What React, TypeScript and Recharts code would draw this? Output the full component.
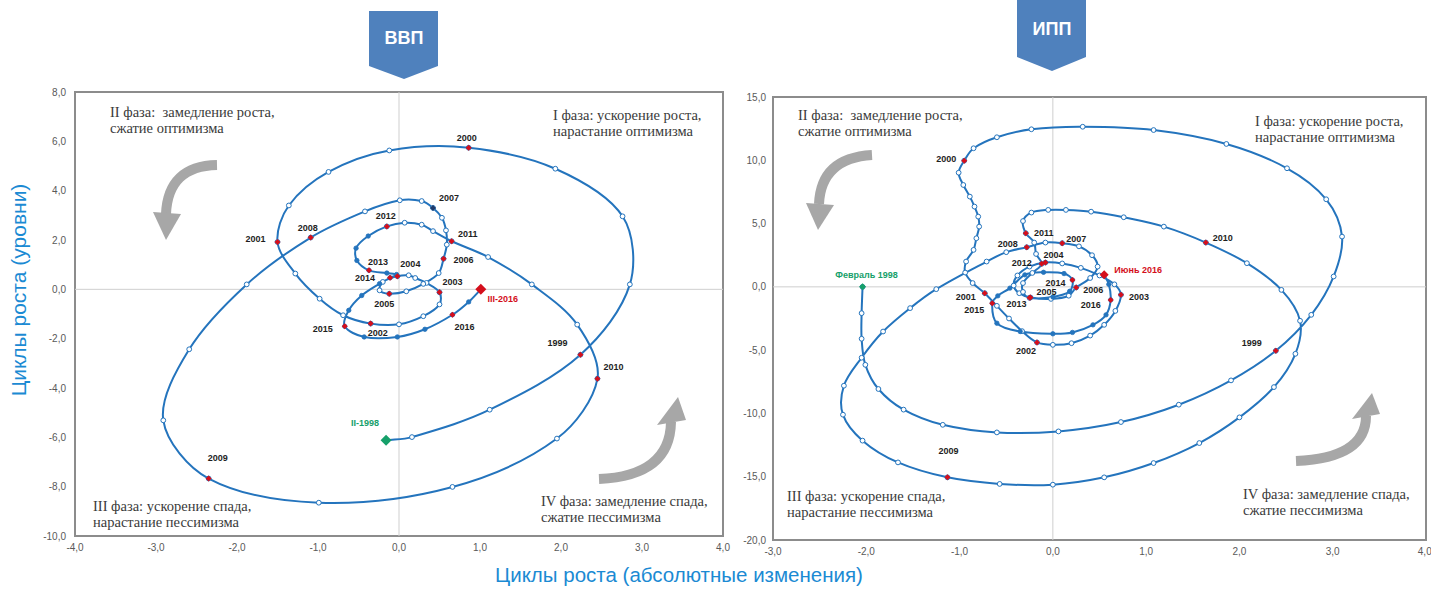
import React from 'react'
import { ComposedChart, Line, Scatter, XAxis, YAxis, ReferenceLine, ReferenceArea } from 'recharts'

type Pt = [number, number]
type Year = [string, number, number]

// ВВП, quarterly path II-1998 … 2012 (hollow dots)
const gdpEarly: Pt[] = [
  [-0.16, -6.12], [0.16, -5.99], [1.12, -4.88], [2.24, -2.65],
  [2.85, 0.2], [2.76, 2.96], [1.93, 4.89], [0.86, 5.74],
  [-0.12, 5.63], [-0.87, 4.76], [-1.36, 3.4], [-1.5, 1.92],
  [-1.28, 0.64], [-0.98, -0.38], [-0.69, -1.05], [-0.35, -1.39],
  [0, -1.42], [0.3, -1.09], [0.5, -0.61], [0.5, -0.12],
  [0.34, 0.26], [0.2, 0.46], [0.12, 0.57], [-0.02, 0.53],
  [-0.2, 0.3], [-0.24, -0.04], [-0.12, -0.18],
  [0.09, -0.08], [0.3, 0.22], [0.49, 0.66], [0.55, 1.24],
  [0.59, 1.81], [0.58, 2.39], [0.53, 2.9], [0.42, 3.3],
  [0.28, 3.58], [0.01, 3.61], [-0.42, 3.16], [-1.09, 2.1],
  [-1.88, 0.2], [-2.59, -2.43], [-2.91, -5.31], [-2.35, -7.67],
  [-0.99, -8.65], [0.66, -8.01], [1.95, -6.05], [2.45, -3.62],
  [2.2, -1.43], [1.64, 0.2], [1.1, 1.31], [0.65, 1.95],
  [0.42, 2.36], [0.28, 2.62], [0.07, 2.7], [-0.15, 2.55],
]

// ВВП, 2012 … III-2016 (filled dots)
const gdpLate: Pt[] = [
  [-0.15, 2.55], [-0.38, 2.16], [-0.53, 1.67], [-0.52, 1.17], [-0.37, 0.77],
  [-0.15, 0.66], [-0.03, 0.6], [-0.11, 0.47],
  [-0.24, 0.23], [-0.46, -0.25], [-0.62, -0.85], [-0.67, -1.5],
  [-0.43, -1.93], [-0.02, -1.93], [0.32, -1.62], [0.66, -1.03],
  [0.86, -0.51], [1.01, 0],
]

const gdpYears: Year[] = [
  ['II-1998', -0.16, -6.12], ['1999', 2.24, -2.65], ['2000', 0.86, 5.74],
  ['2001', -1.5, 1.92], ['2002', -0.35, -1.39], ['2003', 0.5, -0.12],
  ['2004', -0.02, 0.53], ['2005', -0.12, -0.18], ['2006', 0.55, 1.24],
  ['2007', 0.42, 3.3], ['2008', -1.09, 2.1], ['2009', -2.35, -7.67],
  ['2010', 2.45, -3.62], ['2011', 0.65, 1.95], ['2012', -0.15, 2.55],
  ['2013', -0.37, 0.77], ['2014', -0.11, 0.47], ['2015', -0.67, -1.5],
  ['2016', 0.66, -1.03], ['III-2016', 1.01, 0],
]

// ИПП, monthly path Февраль 1998 … 2013 (hollow dots)
const ippEarly: Pt[] = [
  [-2.04, 0], [-2.05, -2.08], [-2.05, -4.1], [-2.01, -6.16], [-1.87, -8.07],
  [-1.6, -9.7], [-1.18, -10.9], [-0.6, -11.5], [0.06, -11.42], [0.73, -10.68],
  [1.35, -9.31], [1.91, -7.39], [2.39, -5.05], [2.77, -2.21], [3.01, 0.82],
  [3.1, 3.97], [2.93, 6.92], [2.51, 9.37], [1.86, 11.29], [1.08, 12.39],
  [0.32, 12.65], [-0.23, 12.45], [-0.6, 11.82], [-0.85, 10.95], [-0.95, 9.97],
  [-1.01, 9.02], [-0.96, 8.05], [-0.89, 7.13], [-0.84, 6.34], [-0.8, 5.55],
  [-0.79, 4.76], [-0.82, 3.84], [-0.85, 2.92], [-0.93, 2.0], [-0.94, 1.13],
  [-0.86, 0.3], [-0.73, -0.5], [-0.6, -1.5], [-0.47, -2.5], [-0.33, -3.5],
  [-0.17, -4.39], [0, -4.58], [0.2, -4.45], [0.4, -3.85], [0.55, -3.0],
  [0.67, -1.9], [0.73, -0.63], [0.66, 0.2], [0.5, 0.9], [0.3, 1.5],
  [0.1, 1.85], [-0.08, 1.92], [-0.25, 1.6], [-0.38, 0.9], [-0.42, 0.1],
  [-0.36, -0.5], [-0.24, -0.84], [-0.02, -0.95], [0.17, -0.7], [0.25, -0.05],
  [0.4, 0.7], [0.48, 1.6], [0.42, 2.5], [0.28, 3.2], [0.1, 3.45],
  [-0.08, 3.5], [-0.28, 3.13], [-0.5, 2.74], [-0.71, 2.0], [-1.25, -0.18],
  [-1.53, -1.68], [-1.82, -3.53], [-2.05, -5.6], [-2.24, -7.81], [-2.25, -10.1],
  [-2.04, -12.15], [-1.66, -13.87], [-1.13, -15.05], [-0.57, -15.57], [0, -15.63],
  [0.55, -15.05], [1.08, -13.92], [1.57, -12.34], [2.0, -10.31], [2.37, -7.92],
  [2.6, -5.29], [2.65, -2.68], [2.45, -0.24], [2.08, 1.87], [1.64, 3.5],
  [1.19, 4.76], [0.76, 5.5], [0.41, 5.94], [0.14, 6.08], [-0.05, 6.08],
  [-0.23, 5.87], [-0.32, 5.2], [-0.29, 4.24], [-0.2, 3.5], [-0.18, 2.6],
  [-0.12, 1.82], [-0.22, 1.1], [-0.32, 0.3], [-0.32, -0.4], [-0.25, -0.87],
]

// ИПП, 2013 … Июнь 2016 (filled dots)
const ippLate: Pt[] = [
  [-0.25, -0.87], [0, -0.8], [0.18, -0.35], [0.21, 0.55], [0.12, 1.05],
  [-0.1, 1.15], [-0.3, 0.95], [-0.46, -0.1], [-0.59, -0.71], [-0.65, -1.29],
  [-0.6, -2.87], [-0.35, -3.53], [0, -3.71], [0.21, -3.6], [0.43, -3.0],
  [0.57, -2.21], [0.62, -1.03], [0.6, 0.2], [0.55, 0.95],
]

const ippYears: Year[] = [
  ['Февраль 1998', -2.04, 0], ['1999', 2.39, -5.05], ['2000', -0.95, 9.97],
  ['2001', -0.73, -0.5], ['2002', -0.17, -4.39], ['2003', 0.73, -0.63],
  ['2004', -0.08, 1.92], ['2005', -0.24, -0.84], ['2006', 0.25, -0.05],
  ['2007', 0.1, 3.45], ['2008', -0.28, 3.13], ['2009', -1.13, -15.05],
  ['2010', 1.64, 3.5], ['2011', -0.29, 4.24], ['2012', -0.12, 1.82],
  ['2013', -0.25, -0.87], ['2014', 0.21, 0.55], ['2015', -0.65, -1.29],
  ['2016', 0.62, -1.03], ['Июнь 2016', 0.55, 0.95],
]

const gdpTicksX = [-4, -3, -2, -1, 0, 1, 2, 3, 4]
const gdpTicksY = [-10, -8, -6, -4, -2, 0, 2, 4, 6, 8]
const ippTicksX = [-3, -2, -1, 0, 1, 2, 3, 4]
const ippTicksY = [-20, -15, -10, -5, 0, 5, 10, 15]

// label offsets (px) relative to each year marker
const gdpLabelOffset: Record<string, [number, number]> = {
  'II-1998': [-21, -17], '1999': [-23, -12], '2000': [-2, -10], '2001': [-22, -3],
  '2002': [7, 9], '2003': [13, -10], '2004': [13, -12], '2005': [-5, 10],
  '2006': [20, 1], '2007': [16, -10], '2008': [-3, -10], '2009': [9, -21],
  '2010': [16, -12], '2011': [16, -7], '2012': [-1, -10], '2013': [9, -8],
  '2014': [-25, 0], '2015': [-22, 3], '2016': [12, 12], 'III-2016': [22, 10],
}
const ippLabelOffset: Record<string, [number, number]> = {
  'Февраль 1998': [4, -12], '1999': [-24, -8], '2000': [-18, -2], '2001': [-19, 4],
  '2002': [-11, 9], '2003': [18, 2], '2004': [8, -8], '2005': [16, -5],
  '2006': [17, 3], '2007': [14, -4], '2008': [-19, -3], '2009': [1, -26],
  '2010': [17, -5], '2011': [18, 0], '2012': [-20, -1], '2013': [-13, 6],
  '2014': [-17, 3], '2015': [-18, 7], '2016': [-20, 5], 'Июнь 2016': [34, -5],
}

const BLUE = '#2474bd'
const RED = '#d40f1c'
const GREEN = '#16a06a'
const SANS = 'Arial, "Liberation Sans", sans-serif'
const SERIF = '"Liberation Serif", "Times New Roman", serif'
const fmt = (v: number) => v.toFixed(1).replace('.', ',')

// chord-length Catmull-Rom so the parametric spiral stays smooth
const smoothCurve = (context: any) => {
  let pts: number[][] = []
  return {
    areaStart() {},
    areaEnd() {},
    lineStart() {
      pts = []
    },
    point(x: number, y: number) {
      pts.push([+x, +y])
    },
    lineEnd() {
      if (!pts.length) return
      const n = pts.length
      const dist = (a: number[], b: number[]) => Math.hypot(b[0] - a[0], b[1] - a[1]) || 1e-6
      const tangent = (i: number) => {
        const a = pts[Math.max(i - 1, 0)]
        const b = pts[Math.min(i + 1, n - 1)]
        const d = dist(a, pts[i]) * (i > 0 ? 1 : 0) + dist(pts[i], b) * (i < n - 1 ? 1 : 0)
        return [(b[0] - a[0]) / d, (b[1] - a[1]) / d]
      }
      context.moveTo(pts[0][0], pts[0][1])
      for (let i = 0; i < n - 1; i++) {
        const p1 = pts[i]
        const p2 = pts[i + 1]
        const len = dist(p1, p2) / 3
        const m1 = tangent(i)
        const m2 = tangent(i + 1)
        context.bezierCurveTo(
          p1[0] + m1[0] * len, p1[1] + m1[1] * len,
          p2[0] - m2[0] * len, p2[1] - m2[1] * len,
          p2[0], p2[1],
        )
      }
    },
  }
}

const renderDot = (props: any) => {
  const { cx, cy, payload, index } = props
  if (cx == null || cy == null) return <g key={`n${index}`} />
  return payload.late ? (
    <circle key={`d${index}`} cx={cx} cy={cy} r={2.2} fill={BLUE} stroke={BLUE} strokeWidth={0.8} />
  ) : (
    <circle key={`d${index}`} cx={cx} cy={cy} r={2.4} fill="#fff" stroke={BLUE} strokeWidth={1} />
  )
}

const markerFor = (label: string) => {
  if (label === 'II-1998') return { r: 5.5, fill: GREEN, text: GREEN }
  if (label === 'Февраль 1998') return { r: 3.5, fill: GREEN, text: GREEN }
  if (label === 'III-2016') return { r: 5.5, fill: RED, text: RED }
  if (label === 'Июнь 2016') return { r: 4.5, fill: RED, text: RED }
  return { r: 3, fill: RED, text: '#1e1e1e' }
}

const makeShape = (offsets: Record<string, [number, number]>, dark: string[]) => (props: any) => {
  const { cx, cy, payload } = props
  const label: string = payload.label
  const m = markerFor(label)
  const fill = dark.includes(label) ? '#1f3a6a' : m.fill
  const [dx, dy] = offsets[label] ?? [0, -10]
  return (
    <g>
      <path d={`M${cx},${cy - m.r}L${cx + m.r},${cy}L${cx},${cy + m.r}L${cx - m.r},${cy}Z`} fill={fill} />
      <text
        x={cx + dx}
        y={cy + dy}
        textAnchor="middle"
        dominantBaseline="central"
        fontSize={9}
        fontWeight={700}
        fontFamily={SANS}
        fill={m.text}
      >
        {label}
      </text>
    </g>
  )
}

interface CycleChartProps {
  early: Pt[]
  late: Pt[]
  years: Year[]
  offsets: Record<string, [number, number]>
  dark: string[]
  ticksX: number[]
  ticksY: number[]
  left: number
  width: number
  margin: { top: number; right: number; bottom: number; left: number }
  yAxisWidth: number
  yTickMargin: number
}

function CycleChart(p: CycleChartProps) {
  const path = [
    ...p.early.map(([x, y]) => ({ x, y, late: false })),
    ...p.late.slice(1).map(([x, y]) => ({ x, y, late: true })),
  ]
  const marks = p.years.map(([label, x, y]) => ({ label, x, y }))
  const xd: [number, number] = [p.ticksX[0], p.ticksX[p.ticksX.length - 1]]
  const yd: [number, number] = [p.ticksY[0], p.ticksY[p.ticksY.length - 1]]
  const tick = { fontSize: 10, fill: '#595959', fontFamily: SANS }
  return (
    <div style={{ position: 'absolute', left: p.left, top: 0 }}>
      <ComposedChart width={p.width} height={560} margin={p.margin}>
        <XAxis
          type="number"
          dataKey="x"
          domain={xd}
          ticks={p.ticksX}
          tickFormatter={fmt}
          axisLine={false}
          tickLine={false}
          tickSize={0}
          tickMargin={8}
          height={20}
          tick={tick}
          allowDataOverflow
        />
        <YAxis
          type="number"
          dataKey="y"
          domain={yd}
          ticks={p.ticksY}
          tickFormatter={fmt}
          axisLine={false}
          tickLine={false}
          tickSize={0}
          tickMargin={p.yTickMargin}
          width={p.yAxisWidth}
          tick={tick}
          allowDataOverflow
        />
        <ReferenceArea x1={xd[0]} x2={xd[1]} y1={yd[0]} y2={yd[1]} fill="none" stroke="#8c8c8c" strokeWidth={2} />
        <ReferenceLine x={0} stroke="#cfcfcf" strokeWidth={1} />
        <ReferenceLine y={0} stroke="#cfcfcf" strokeWidth={1} />
        <Line
          data={path}
          dataKey="y"
          type={smoothCurve as any}
          stroke={BLUE}
          strokeWidth={2}
          dot={renderDot}
          activeDot={false}
          isAnimationActive={false}
        />
        <Scatter data={marks} dataKey="y" shape={makeShape(p.offsets, p.dark)} isAnimationActive={false} />
      </ComposedChart>
    </div>
  )
}

const Arrow = ({ d, head }: { d: string; head: string }) => (
  <g fill="#a7a7a7" stroke="none">
    <path d={d} fill="none" stroke="#a7a7a7" strokeWidth={10} />
    <path d={head} />
  </g>
)

const PhaseText = ({ x, y, lines }: { x: number; y: number; lines: string[] }) => (
  <text x={x} y={y} fontFamily={SERIF} fontSize={14.5} fill="#3a3a3a" style={{ whiteSpace: 'pre' }}>
    {lines.map((l, i) => (
      <tspan key={i} x={x} dy={i === 0 ? 0 : 16}>
        {l}
      </tspan>
    ))}
  </text>
)

export default function App() {
  return (
    <div style={{ position: 'absolute', left: 0, top: 0, width: 1431, height: 589, background: '#fff', overflow: 'hidden' }}>
      <CycleChart
        early={gdpEarly}
        late={gdpLate}
        years={gdpYears}
        offsets={gdpLabelOffset}
        dark={['2007']}
        ticksX={gdpTicksX}
        ticksY={gdpTicksY}
        left={0}
        width={740}
        margin={{ top: 92, right: 17, bottom: 4, left: 15 }}
        yAxisWidth={60}
        yTickMargin={9}
      />
      <CycleChart
        early={ippEarly}
        late={ippLate}
        years={ippYears}
        offsets={ippLabelOffset}
        dark={[]}
        ticksX={ippTicksX}
        ticksY={ippTicksY}
        left={740}
        width={691}
        margin={{ top: 97, right: 5, bottom: 0, left: 3 }}
        yAxisWidth={30}
        yTickMargin={7}
      />
      <svg width={1431} height={589} style={{ position: 'absolute', left: 0, top: 0, pointerEvents: 'none' }}>
        <polygon points="369,11 438,11 438,66 404,79 369,66" fill="#4f81bd" />
        <text x={404} y={44} textAnchor="middle" fontFamily={SANS} fontWeight={700} fontSize={18} fill="#fff">
          ВВП
        </text>
        <polygon points="1017,0 1086,0 1086,57 1052,71 1017,57" fill="#4f81bd" />
        <text x={1052} y={35} textAnchor="middle" fontFamily={SANS} fontWeight={700} fontSize={18} fill="#fff">
          ИПП
        </text>

        <Arrow d="M217,165 Q168,166 166,214" head="M153,212 L181,214 L166,240 Z" />
        <Arrow d="M599,479 Q670,476 671,422" head="M657,425 L686,420 L678,397 Z" />
        <Arrow d="M872,155 Q821,158 819,204" head="M806,203 L834,205 L818,230 Z" />
        <Arrow d="M1296,461 Q1366,458 1366,416" head="M1352,419 L1380,414 L1372,393 Z" />

        <PhaseText x={110} y={117} lines={['II фаза:  замедление роста,', 'сжатие оптимизма']} />
        <PhaseText x={553} y={120} lines={['I фаза: ускорение роста,', 'нарастание оптимизма']} />
        <PhaseText x={93} y={511} lines={['III фаза: ускорение спада,', 'нарастание пессимизма']} />
        <PhaseText x={541} y={506} lines={['IV фаза: замедление спада,', 'сжатие пессимизма']} />
        <PhaseText x={798} y={120} lines={['II фаза:  замедление роста,', 'сжатие оптимизма']} />
        <PhaseText x={1255} y={126} lines={['I фаза: ускорение роста,', 'нарастание оптимизма']} />
        <PhaseText x={787} y={501} lines={['III фаза: ускорение спада,', 'нарастание пессимизма']} />
        <PhaseText x={1243} y={499} lines={['IV фаза: замедление спада,', 'сжатие пессимизма']} />

        <text
          transform="translate(26,290) rotate(-90)"
          textAnchor="middle"
          fontFamily={SANS}
          fontSize={21}
          fill="#1b8ad3"
        >
          Циклы роста (уровни)
        </text>
        <text x={679} y={582} textAnchor="middle" fontFamily={SANS} fontSize={20.5} fill="#1b8ad3">
          Циклы роста (абсолютные изменения)
        </text>
      </svg>
    </div>
  )
}
